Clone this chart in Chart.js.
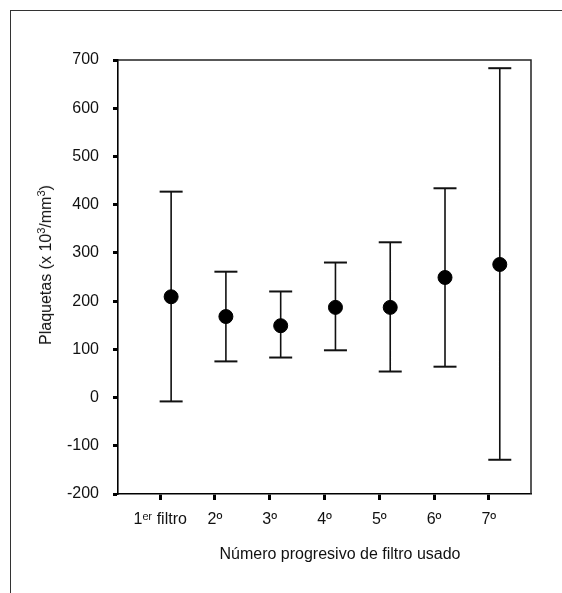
<!DOCTYPE html>
<html>
<head>
<meta charset="utf-8">
<script src="https://cdn.jsdelivr.net/npm/chart.js@4.4.1/dist/chart.umd.min.js"></script>
<style>
  html, body { margin: 0; padding: 0; background: #fff; overflow: hidden; }
  #wrap { position: relative; width: 562px; height: 593px; }
  #frame { position: absolute; left: 10px; top: 10px; width: 700px; height: 700px;
           border-top: 1.5px solid #333; border-left: 1.5px solid #333; }
  canvas { position: absolute; left: 0; top: 0; }
  .ttl { position: absolute; font-family: "Liberation Sans Narrow", "Liberation Sans", Arial, sans-serif;
         font-size: 16px; color: #111; white-space: nowrap; line-height: 1; }
  #xt { left: 340px; top: 554px; transform: translate(-50%, -50%); }
  #yt { left: 46px; top: 265px; transform: translate(-50%, -50%) rotate(-90deg); }
  #yt sup { font-size: 11px; vertical-align: 0; position: relative; top: -6px; }
</style>
</head>
<body>
<div id="wrap">
  <div id="frame"></div>
  <canvas id="c" width="562" height="593"></canvas>
  <div class="ttl" id="xt"></div>
  <div class="ttl" id="yt"></div>
</div>
<script>
// ---- data ----
const categories = ['1\u1D49\u02B3 filtro', '2\u00BA', '3\u00BA', '4\u00BA', '5\u00BA', '6\u00BA', '7\u00BA'];
const means = [209, 168, 149, 187, 187, 249, 276];
const upper = [427, 261, 220, 280, 322, 434, 683];
const lower = [-8, 75, 83, 98, 54, 64, -129];
const yTickValues = [-200, -100, 0, 100, 200, 300, 400, 500, 600, 700];
const xTitle = 'Número progresivo de filtro usado';
const yTitleParts = ['Plaquetas (x 10', '3', '/mm', '3', ')'];

document.getElementById('xt').textContent = xTitle;
document.getElementById('yt').innerHTML = yTitleParts
  .map((p, i) => i % 2 ? '<sup>' + p + '</sup>' : p).join('');

// layout helpers (not data)
const POINT_SHIFT = 0.2;
const posOf = i => i + 1 + POINT_SHIFT;
const FONT = '"Liberation Sans Narrow", "Liberation Sans", Arial, sans-serif';

const whiskers = [];
categories.forEach((c, i) => {
  whiskers.push({ x: posOf(i), y: lower[i] });
  whiskers.push({ x: posOf(i), y: upper[i] });
  whiskers.push({ x: posOf(i), y: null });
});
const caps = [];
categories.forEach((c, i) => {
  caps.push({ x: posOf(i), y: upper[i] });
  caps.push({ x: posOf(i), y: lower[i] });
});
const meanPts = categories.map((c, i) => ({ x: posOf(i), y: means[i] }));

const boxPlugin = {
  id: 'box',
  afterDatasetsDraw(chart) {
    const { ctx, chartArea: a } = chart;
    ctx.save();
    ctx.strokeStyle = '#222';
    ctx.lineWidth = 1.5;
    ctx.beginPath();
    ctx.moveTo(a.left, a.top);
    ctx.lineTo(a.right, a.top);
    ctx.lineTo(a.right, a.bottom);
    ctx.stroke();
    ctx.restore();
  }
};

new Chart(document.getElementById('c'), {
  type: 'scatter',
  data: {
    datasets: [
      { type: 'scatter', data: meanPts, pointRadius: 7, pointHoverRadius: 7,
        backgroundColor: '#000', borderColor: '#000', borderWidth: 1, order: 0 },
      { type: 'scatter', data: caps, pointStyle: 'line', pointRadius: 11.5, pointHoverRadius: 11.5,
        borderColor: '#111', borderWidth: 2, order: 1 },
      { type: 'line', data: whiskers, showLine: true, spanGaps: false, pointRadius: 0,
        borderColor: '#111', borderWidth: 1.6, fill: false, order: 2 }
    ]
  },
  options: {
    responsive: false,
    animation: false,
    events: [],
    layout: { padding: { left: 30, right: 31, top: 60, bottom: 0 } },
    plugins: { legend: { display: false }, tooltip: { enabled: false } },
    scales: {
      x: {
        type: 'linear',
        min: 0.23,
        max: 7.77,
        afterFit: s => { s.height = 99; },
        afterBuildTicks: s => { s.ticks = categories.map((c, i) => ({ value: i + 1 })); },
        grid: { display: true, drawOnChartArea: false, drawTicks: true, tickLength: 6,
                tickWidth: 3, tickColor: '#000' },
        border: { display: true, color: '#000', width: 1.6 },
        ticks: {
          autoSkip: false, maxRotation: 0, padding: 10, color: '#111',
          font: { family: FONT, size: 16 },
          callback: v => categories[Math.round(v) - 1]
        },
        title: { display: false }
      },
      y: {
        min: -200,
        max: 700,
        afterFit: s => { s.width = 88; },
        afterBuildTicks: s => { s.ticks = yTickValues.map(v => ({ value: v })); },
        grid: { display: true, drawOnChartArea: false, drawTicks: true, tickLength: 5,
                tickWidth: 3, tickColor: '#000' },
        border: { display: true, color: '#000', width: 1.6 },
        ticks: { padding: 14, color: '#111', font: { family: FONT, size: 16 } },
        title: { display: false }
      }
    }
  },
  plugins: [boxPlugin]
});
</script>
</body>
</html>
